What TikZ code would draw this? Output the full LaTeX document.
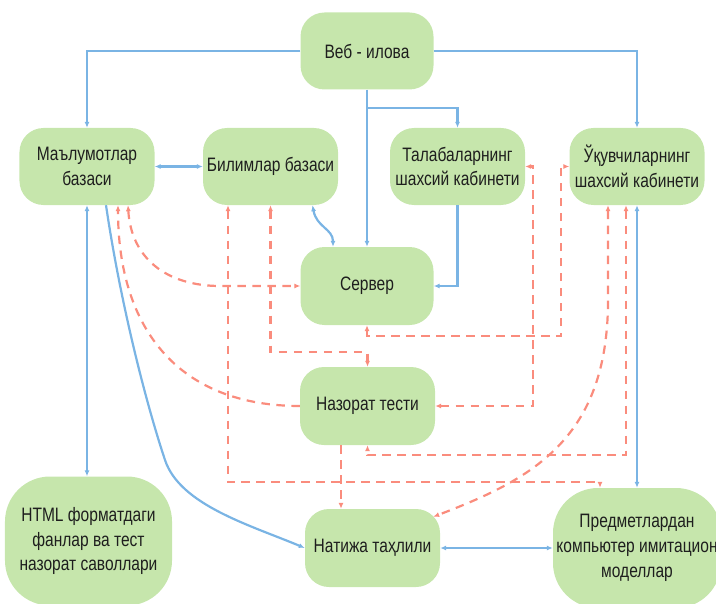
\documentclass[tikz,border=0pt]{standalone}
\usepackage{fontspec}
\setmainfont{Liberation Sans}[FakeStretch=0.8]
\usetikzlibrary{arrows.meta,calc}
\definecolor{nodegreen}{HTML}{C6E6AC}
\definecolor{lblue}{HTML}{7AB4E4}
\definecolor{salmon}{HTML}{FA8C7D}
\definecolor{textc}{HTML}{1E1E1E}
\tikzset{
  box/.style={fill=nodegreen, rounded corners=24bp, minimum width=135bp, minimum height=78bp,
    inner sep=0pt, align=center, text=textc, font=\fontsize{19.5}{25}\selectfont},
  bigbox/.style={box, rounded corners=45bp},
  blu/.style={draw=lblue, line width=2.2bp},
  rdash/.style={draw=salmon, line width=2.2bp, dash pattern=on 8.5bp off 6.5bp},
  >={Latex[length=6bp,width=5bp]}
}
\begin{document}
\begin{tikzpicture}[x=1bp,y=-1bp]
\useasboundingbox (0,0) rectangle (716,604);
% nodes
\node[box, minimum width=133bp, minimum height=77bp] (veb) at (367,51) {Веб - илова};
\node[box, minimum height=77bp] (mal) at (87,166.5) {Маълумотлар\\базаси};
\node[box, minimum height=77bp] (bil) at (270.5,166.5) {Билимлар базаси};
\node[box, minimum height=77bp] (tal) at (457.5,166.5) {Талабаларнинг\\шахсий кабинети};
\node[box, minimum height=77bp] (uq) at (637,166.5) {Ўқувчиларнинг\\шахсий кабинети};
\node[box, minimum width=133bp] (ser) at (367,286) {Сервер};
\node[box] (naz) at (367.5,406) {Назорат тести};
\node[bigbox, minimum width=167bp, minimum height=129bp] (html) at (88.5,541) {HTML форматдаги\\фанлар ва тест\\назорат саволлари};
\node[box] (nat) at (372.5,548) {Натижа таҳлили};
\node[bigbox, minimum width=168bp, minimum height=120bp] (pred) at (637,548) {Предметлардан\\компьютер имитацион\\моделлар};
% blue connectors
\draw[blu,->] (veb.west) -| (mal.north);
\draw[blu,->] (veb.east) -| (uq.north);
\draw[blu,->] (veb.south) -- (ser.north);
\draw[blu,->] ([yshift=-18bp]veb.south) -| (tal.north);
\draw[blu,->] (tal.south) |- (ser.east);
\draw[blu,<->] (mal.east) -- (bil.west);
\draw[blu,<->] ([xshift=42bp]bil.south) .. controls +(4,22) and +(0,-18) .. ([xshift=-34bp]ser.north);
\draw[blu,<->] (mal.south) -- (mal.south |- html.north);
\draw[blu,->] ([xshift=19bp]mal.south) .. controls +(14,95) and +(-20,-60) .. (165,460)
   .. controls +(15,45) and +(-55,-23) .. (nat.west);
\draw[blu,<->] (nat.east) -- (pred.west);
\draw[blu,<->] (uq.south) -- (uq.south |- pred.north);
% red dashed connectors
\draw[rdash,<->] ([xshift=41bp]mal.south) .. controls +(3,52) and +(-55,0) .. ([xshift=-80bp]ser.west) -- (ser.west);
\draw[rdash,->] (naz.west) .. controls +(-120,0) and +(0,125) .. ([xshift=31bp]mal.south);
\draw[rdash,<->] ([xshift=-42.5bp]bil.south) -- ++(0,277) -| ([xshift=-37bp]pred.north);
\draw[rdash,->] ([xshift=-26.5bp]naz.south) -- ([xshift=-26.5bp]naz.south |- nat.north);
\draw[rdash,<->] (bil.south) -- ++(0,147) -| (naz.north);
\draw[rdash,<->] (ser.south) -- ++(0,11) -| ([xshift=-8bp]uq.west) -- (uq.west);
\draw[rdash,<->] (naz.east) -| ([xshift=8bp]tal.east) -- (tal.east);
\draw[rdash,<->] ([xshift=-11bp]uq.south) -- ++(0,250) -| (naz.south);
\draw[rdash,<->] ([xshift=-29bp]uq.south) -- ++(0,95) .. controls +(0,140) and +(97,-37) .. ([xshift=-7bp,yshift=-8bp]nat.north east);
\end{tikzpicture}
\end{document}
